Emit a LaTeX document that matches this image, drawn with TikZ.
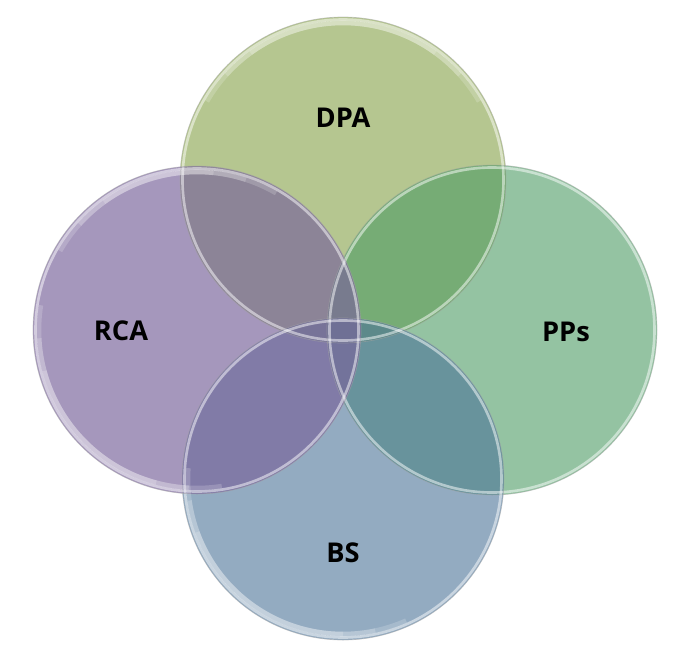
\documentclass[tikz,border=0pt]{standalone}
\usepackage{fontspec}
\setmainfont{Open Sans}
\usepackage{tikz}

\definecolor{dpagreen}{RGB}{181,198,144}
\definecolor{ppsgreen}{RGB}{77,155,100}
\definecolor{bsblue}{RGB}{75,115,152}
\definecolor{rcapurple}{RGB}{121,100,155}

\tikzset{
  rim/.style={draw=white, draw opacity=0.5, line width=1.5pt},
  outline/.style={draw=black!35, draw opacity=0.5, line width=0.4pt},
  gloss/.style={draw=white, draw opacity=0.18, line width=2.6pt},
  setname/.style={font=\bfseries\fontsize{15.5}{18}\selectfont, text=black}
}

\begin{document}
\begin{tikzpicture}[x=0.02cm,y=-0.02cm]
\useasboundingbox (0,0) rectangle (680,650);
% top
\fill[dpagreen] (343,180) circle (163);
% right
\fill[ppsgreen, fill opacity=0.6] (492,330) circle (165);
% bottom
\fill[bsblue, fill opacity=0.6] (343,479) circle (161);
% left
\fill[rcapurple, fill opacity=0.67] (197,330) circle (164);

% rims
\foreach \cx/\cy/\r in {343/180/163, 492/330/165, 343/479/161, 197/330/164} {
  \draw[outline] (\cx,\cy) circle (\r);
  \draw[rim] (\cx,\cy) circle (\r-2.5);
}

% highlights, faded at the ends
\foreach \s in {0,12,24} {
  \draw[gloss] (343,180) ++(-150+\s:157) arc[start angle=-150+\s, end angle=-30-\s, radius=157];
  \draw[gloss] (197,330) ++(-150+\s:158) arc[start angle=-150+\s, end angle=-60-\s, radius=158];
  \draw[gloss] (197,330) ++(-195+\s:158) arc[start angle=-195+\s, end angle=-255-\s, radius=158];
  \draw[gloss] (343,479) ++(-200+\s:155) arc[start angle=-200+\s, end angle=-270-\s, radius=155];
}

% names
\node[setname] (dpa) at (343,118) {DPA};
\node[setname] (rca) at (121,331) {RCA};
\node[setname] (pps) at (566,332) {PPs};
\node[setname] (bs) at (343,553) {BS};
\end{tikzpicture}
\end{document}
